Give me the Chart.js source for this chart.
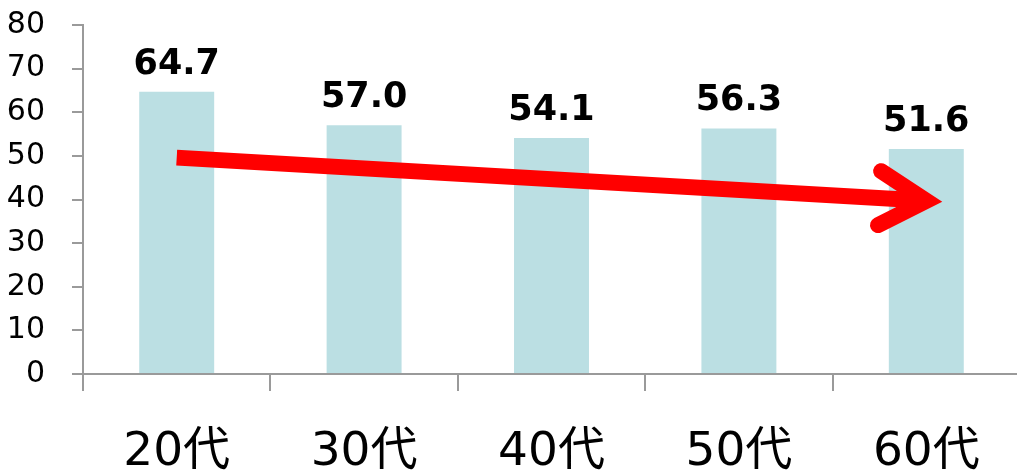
<!DOCTYPE html>
<html>
<head>
<meta charset="utf-8">
<script src="https://cdn.jsdelivr.net/npm/chart.js@4/dist/chart.umd.min.js"></script>
<style>
html,body{margin:0;padding:0;background:#fff;overflow:hidden;}
#wrap{width:1017px;height:475px;overflow:hidden;position:relative;}
canvas{display:block;}
</style>
</head>
<body>
<div id="wrap"><canvas id="c" width="1030" height="475"></canvas></div>
<script>
const categories = ['20代', '30代', '40代', '50代', '60代'];
const values = [64.7, 57.0, 54.1, 56.3, 51.6];
const yTicks = [0, 10, 20, 30, 40, 50, 60, 70, 80];
// trend arrow annotation: [category index, value] for start and head
const arrowStart = [0, 49.6];
const arrowEnd = [4, 39.7];

const AXIS = '#9a9a9a';

const labelPlugin = {
  id: 'valueLabels',
  afterDatasetsDraw(chart) {
    const ctx = chart.ctx;
    const meta = chart.getDatasetMeta(0);
    ctx.save();
    ctx.font = 'bold 35px "DejaVu Sans", Verdana, sans-serif';
    ctx.fillStyle = '#000';
    ctx.textAlign = 'center';
    ctx.textBaseline = 'alphabetic';
    meta.data.forEach((bar, i) => {
      ctx.fillText(values[i].toFixed(1), bar.x, bar.y - 18);
    });
    ctx.restore();
  }
};

const arrowPlugin = {
  id: 'trendArrow',
  afterDatasetsDraw(chart) {
    const xs = chart.scales.x, ys = chart.scales.y;
    const x0 = xs.getPixelForValue(arrowStart[0]), y0 = ys.getPixelForValue(arrowStart[1]);
    const x1 = xs.getPixelForValue(arrowEnd[0]), y1 = ys.getPixelForValue(arrowEnd[1]);
    const ang = Math.atan2(y1 - y0, x1 - x0);
    const headLen = 54, headAng = Math.PI / 6;
    const ctx = chart.ctx;
    ctx.save();
    ctx.strokeStyle = '#FF0000';
    ctx.lineWidth = 16;
    ctx.lineCap = 'butt';
    ctx.beginPath();
    ctx.moveTo(x0, y0);
    ctx.lineTo(x1, y1);
    ctx.stroke();
    ctx.lineCap = 'round';
    ctx.lineJoin = 'miter';
    ctx.miterLimit = 10;
    ctx.beginPath();
    ctx.moveTo(x1 - headLen * Math.cos(ang - headAng), y1 - headLen * Math.sin(ang - headAng));
    ctx.lineTo(x1, y1);
    ctx.lineTo(x1 - headLen * Math.cos(ang + headAng), y1 - headLen * Math.sin(ang + headAng));
    ctx.stroke();
    ctx.restore();
  }
};

new Chart(document.getElementById('c'), {
  type: 'bar',
  data: {
    labels: categories,
    datasets: [{
      data: values,
      backgroundColor: '#BBDFE3',
      borderWidth: 0,
      barPercentage: 0.4,
      categoryPercentage: 1.0
    }]
  },
  options: {
    responsive: false,
    animation: false,
    devicePixelRatio: 1,
    layout: { padding: { left: 8, right: 10, top: 25, bottom: 0 } },
    plugins: { legend: { display: false }, tooltip: { enabled: false } },
    scales: {
      x: {
        offset: true,
        afterFit(scale) { scale.height = 101; scale.paddingLeft = 0; scale.paddingRight = 0; },
        grid: { offset: true, drawOnChartArea: false, drawTicks: true, tickLength: 17, color: AXIS, lineWidth: 2 },
        border: { display: true, color: AXIS, width: 2 },
        ticks: {
          color: '#000',
          padding: 38,
          maxRotation: 0,
          font: { family: '"DejaVu Sans", "Noto Sans CJK JP", sans-serif', size: 47, lineHeight: 1 }
        }
      },
      y: {
        min: 0, max: 80,
        afterBuildTicks(scale) { scale.ticks = yTicks.map(v => ({ value: v })); },
        afterFit(scale) { scale.width = 75; scale.paddingTop = 0; scale.paddingBottom = 0; },
        grid: { drawOnChartArea: false, drawTicks: true, tickLength: 11, color: AXIS, lineWidth: 2 },
        border: { display: true, color: AXIS, width: 2 },
        ticks: {
          color: '#000',
          padding: 27,
          font: { family: '"DejaVu Sans", Verdana, sans-serif', size: 30, lineHeight: 1 }
        }
      }
    }
  },
  plugins: [labelPlugin, arrowPlugin]
});
</script>
</body>
</html>
